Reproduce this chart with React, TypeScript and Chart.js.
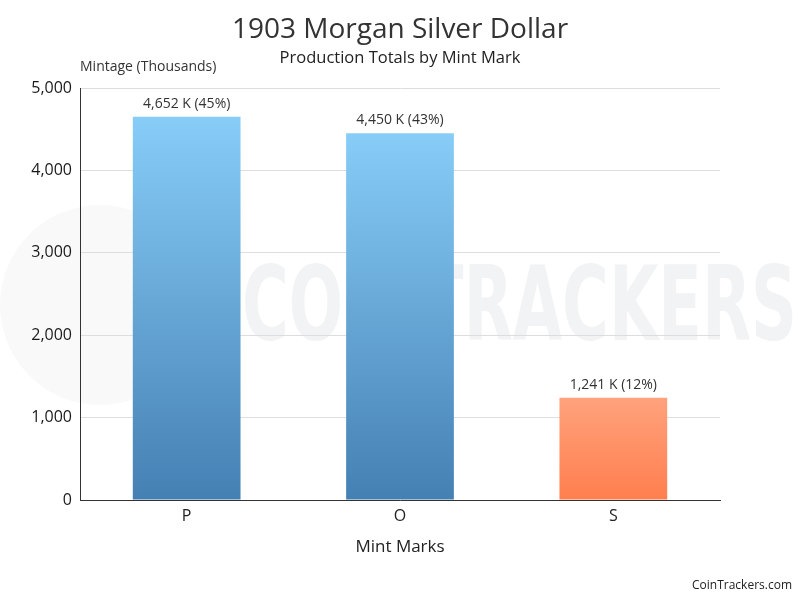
import React, { useEffect, useRef } from "react";
import { Chart, registerables } from "chart.js";

Chart.register(...registerables);

const categories = ["P", "O", "S"];
const mintage = [4652, 4450, 1241];
const yTicks = [0, 1000, 2000, 3000, 4000, 5000];
const topColors = ["#87CDF8", "#87CDF8", "#FFA27C"];
const bottomColors = ["#4580B3", "#4580B3", "#FF7E4E"];

const titleText = "1903 Morgan Silver Dollar";
const subtitleText = "Production Totals by Mint Mark";
const yAxisTitle = "Mintage (Thousands)";
const xAxisTitle = "Mint Marks";
const creditText = "CoinTrackers.com";
const watermarkText = "COINTRACKERS";

const FONT = "'Open Sans', 'Noto Sans', sans-serif";

const total = mintage.reduce((a, b) => a + b, 0);
const fmt = (v: number) => v.toLocaleString("en-US");
const barLabels = mintage.map((v) => `${fmt(v)} K (${Math.round((v / total) * 100)}%)`);

export default function App() {
  const ref = useRef<HTMLCanvasElement>(null);

  useEffect(() => {
    if (!ref.current) return;

    const watermark = {
      id: "watermark",
      beforeDraw(chart: any) {
        const ctx = chart.ctx;
        ctx.save();
        // faint mascot disc
        ctx.fillStyle = "#f9f9f9";
        ctx.beginPath();
        ctx.arc(100, 305, 100, 0, Math.PI * 2);
        ctx.fill();
        // faint brand text
        ctx.fillStyle = "#f2f3f4";
        ctx.font = `bold 104px 'DejaVu Sans Condensed', 'Liberation Sans Narrow', sans-serif`;
        ctx.textBaseline = "alphabetic";
        const w = ctx.measureText(watermarkText).width;
        const target = 555;
        ctx.translate(242, 340);
        ctx.scale(target / w, 1);
        ctx.fillText(watermarkText, 0, 0);
        ctx.restore();
      },
    };

    const texts = {
      id: "texts",
      afterDraw(chart: any) {
        const ctx = chart.ctx;
        ctx.save();
        ctx.fillStyle = "#333333";
        ctx.textAlign = "center";
        ctx.textBaseline = "middle";
        ctx.font = `28px ${FONT}`;
        ctx.fillText(titleText, 400, 30);
        ctx.fillStyle = "#222222";
        ctx.font = `16.5px ${FONT}`;
        ctx.fillText(subtitleText, 400, 58);
        ctx.fillStyle = "#333333";
        ctx.textAlign = "left";
        ctx.font = `14px ${FONT}`;
        ctx.fillText(yAxisTitle, 80, 67);
        ctx.textAlign = "center";
        ctx.font = `17px ${FONT}`;
        ctx.fillStyle = "#222222";
        ctx.fillText(xAxisTitle, 400, 547);
        ctx.textAlign = "right";
        ctx.font = `12px ${FONT}`;
        ctx.fillText(creditText, 792, 586);

        // bar value labels
        const meta = chart.getDatasetMeta(0);
        ctx.textAlign = "center";
        ctx.textBaseline = "bottom";
        ctx.fillStyle = "#333333";
        ctx.font = `14px ${FONT}`;
        meta.data.forEach((bar: any, i: number) => {
          ctx.fillText(barLabels[i], bar.x, bar.y - 6);
        });
        ctx.restore();
      },
    };

    const chart = new Chart(ref.current, {
      type: "bar",
      data: {
        labels: categories,
        datasets: [
          {
            data: mintage,
            backgroundColor: (c: any) => {
              const ch = c.chart;
              const i = c.dataIndex;
              if (!ch.chartArea || i === undefined || !ch.scales.y) return topColors[i ?? 0];
              const top = ch.scales.y.getPixelForValue(mintage[i]);
              const bottom = ch.scales.y.getPixelForValue(0);
              if (!isFinite(top) || !isFinite(bottom) || top === bottom) return topColors[i];
              const g = ch.ctx.createLinearGradient(0, top, 0, bottom);
              g.addColorStop(0, topColors[i]);
              g.addColorStop(1, bottomColors[i]);
              return g;
            },
            borderWidth: 0,
            barPercentage: 0.505,
            categoryPercentage: 1,
          },
        ],
      },
      options: {
        animation: false,
        responsive: false,
        maintainAspectRatio: false,
        layout: { padding: { top: 88, right: 80, left: 0, bottom: 0 } },
        plugins: {
          legend: { display: false },
          tooltip: { enabled: false },
          title: { display: false },
        },
        scales: {
          x: {
            grid: { display: false, drawTicks: false },
            border: { display: true, color: "#333333", width: 1 },
            ticks: { color: "#222222", font: { size: 16, family: FONT }, padding: 7 },
            afterFit: (s: any) => {
              s.height = 100;
            },
          },
          y: {
            min: 0,
            max: 5000,
            afterBuildTicks: (s: any) => {
              s.ticks = yTicks.map((v) => ({ value: v }));
            },
            grid: { color: "#dddddd", drawTicks: false, lineWidth: 1 },
            border: { display: true, color: "#333333", width: 1 },
            ticks: {
              color: "#1a1a1a",
              font: { size: 16, family: FONT },
              padding: 8,
              callback: (v: any) => fmt(Number(v)),
            },
            afterFit: (s: any) => {
              s.width = 80;
            },
          },
        },
      },
      plugins: [watermark, texts],
    } as any);

    return () => chart.destroy();
  }, []);

  return (
    <div style={{ position: "fixed", left: 0, top: 0, width: 800, height: 600, background: "#ffffff" }}>
      <canvas ref={ref} width={800} height={600} style={{ width: 800, height: 600, display: "block" }} />
    </div>
  );
}
